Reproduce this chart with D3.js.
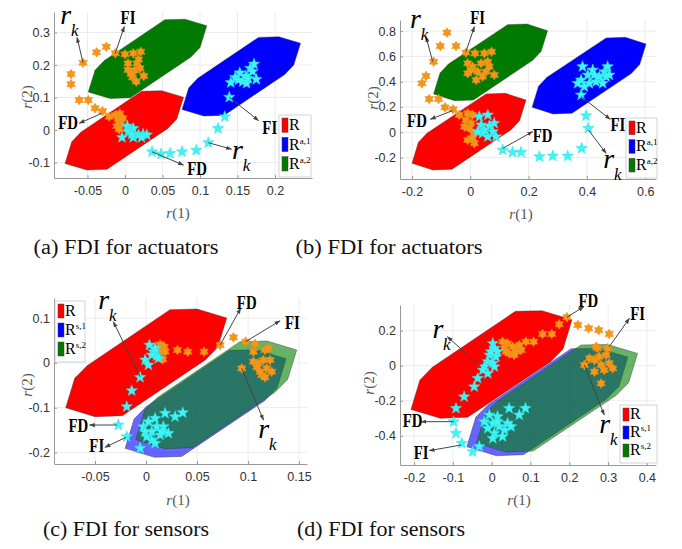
<!DOCTYPE html>
<html>
<head>
<meta charset="utf-8">
<script src="https://cdn.jsdelivr.net/npm/d3@7"></script>
<style>
  body { margin: 0; background: #fff; }
  text { font-family: "Liberation Serif", serif; }
  .tick text { font-family: "Liberation Sans", Arial, sans-serif; font-size: 12.5px; fill: #333; }
</style>
</head>
<body>
<div id="fig"></div>
<script>
// ---- reachable sets, vertices as [r(1), r(2)] ----
var zoneA_R   = [[-0.080,-0.103],[-0.071,-0.036],[-0.059,-0.007],[0.022,0.119],[0.049,0.121],[0.078,0.101],[0.069,0.034],[0.057,0.005],[-0.024,-0.121],[-0.051,-0.123]];
var zoneA_Ra1 = [[0.076,0.063],[0.085,0.130],[0.097,0.159],[0.178,0.285],[0.205,0.287],[0.234,0.267],[0.225,0.200],[0.213,0.171],[0.132,0.045],[0.105,0.043]];
var zoneA_Ra2 = [[-0.049,0.117],[-0.040,0.184],[-0.028,0.213],[0.053,0.339],[0.080,0.341],[0.109,0.321],[0.100,0.254],[0.088,0.225],[0.007,0.099],[-0.020,0.097]];

var zoneB_R   = [[-0.200,-0.245],[-0.178,-0.079],[-0.149,-0.008],[0.054,0.303],[0.120,0.308],[0.191,0.255],[0.169,0.092],[0.140,0.021],[-0.063,-0.292],[-0.128,-0.298]];
var zoneB_Ra1 = [[0.212,0.198],[0.234,0.364],[0.263,0.435],[0.466,0.746],[0.532,0.751],[0.603,0.698],[0.581,0.535],[0.552,0.464],[0.349,0.151],[0.284,0.145]];
var zoneB_Ra2 = [[-0.126,0.303],[-0.104,0.469],[-0.075,0.540],[0.128,0.851],[0.194,0.856],[0.265,0.803],[0.243,0.640],[0.214,0.569],[0.011,0.256],[-0.054,0.250]];

var zoneC_R   = [[-0.0787,-0.100],[-0.0699,-0.0344],[-0.0578,-0.0063],[0.0235,0.1188],[0.0500,0.1203],[0.0791,0.1002],[0.0703,0.0348],[0.0581,0.0065],[-0.0232,-0.1179],[-0.0500,-0.1201]];
var zoneC_Rs1 = [[-0.0205,-0.1908],[-0.0117,-0.1252],[0.0004,-0.0971],[0.0817,0.0280],[0.1082,0.0295],[0.1373,0.0094],[0.1285,-0.0560],[0.1163,-0.0843],[0.0350,-0.2087],[0.0082,-0.2109]];
var zoneC_Rs2 = [[-0.0101,-0.1714],[-0.0013,-0.1058],[0.0108,-0.0777],[0.0921,0.0474],[0.1186,0.0489],[0.1477,0.0288],[0.1389,-0.0366],[0.1267,-0.0649],[0.0454,-0.1893],[0.0186,-0.1915]];

var zoneD_R   = [[-0.208,-0.249],[-0.185,-0.081],[-0.153,-0.009],[0.061,0.310],[0.130,0.313],[0.207,0.262],[0.184,0.095],[0.152,0.023],[-0.062,-0.294],[-0.132,-0.300]];
var zoneD_Rs1 = [[-0.064,-0.462],[-0.041,-0.294],[-0.009,-0.222],[0.205,0.097],[0.274,0.100],[0.351,0.049],[0.328,-0.118],[0.296,-0.190],[0.082,-0.507],[0.012,-0.513]];
var zoneD_Rs2 = [[-0.039,-0.441],[-0.016,-0.273],[0.016,-0.201],[0.230,0.118],[0.299,0.121],[0.376,0.070],[0.353,-0.097],[0.321,-0.169],[0.107,-0.486],[0.037,-0.492]];

// ---- residual samples r_k (orange = hexagram, cyan = pentagram) ----
var orangeA = [[-0.025,0.256],[-0.038,0.239],[-0.056,0.207],[-0.072,0.172],[-0.072,0.141],[-0.061,0.092],[-0.049,0.092],[-0.040,0.067],[-0.030,0.058],[-0.021,0.041],
  [-0.013,0.236],[0.000,0.233],[0.011,0.236],[0.021,0.241],[0.004,0.205],[0.016,0.205],[0.004,0.185],[0.013,0.183],[0.020,0.190],[0.025,0.166],[0.010,0.162],[0.015,0.149],[0.008,0.172],[0.018,0.217],
  [-0.013,0.046],[-0.007,0.051],[-0.009,0.033],[-0.006,0.018],[-0.011,0.012],[-0.008,0.002],[-0.003,0.036]];
var cyanA = [[-0.004,-0.023],[0.003,0.012],[0.004,-0.005],[0.011,0.005],[0.011,-0.023],[0.018,-0.015],[0.024,-0.013],[0.029,-0.015],[0.009,-0.013],[0.022,-0.023],
  [0.036,-0.067],[0.048,-0.074],[0.060,-0.072],[0.076,-0.067],[0.095,-0.062],[0.111,-0.039],[0.124,0.005],[0.133,0.041],[0.139,0.101],
  [0.141,0.146],[0.147,0.162],[0.153,0.176],[0.157,0.149],[0.161,0.166],[0.167,0.190],[0.172,0.203],[0.170,0.180],[0.175,0.156],[0.162,0.144],[0.151,0.154],[0.164,0.159]];

var orangeB = [[-0.080,0.788],[-0.103,0.682],[-0.049,0.682],[-0.126,0.558],[-0.152,0.445],[-0.166,0.387],[-0.141,0.263],[-0.109,0.263],[-0.087,0.197],[-0.059,0.182],[-0.038,0.137],
  [-0.015,0.630],[0.016,0.624],[0.048,0.624],[0.073,0.637],[-0.009,0.545],[0.008,0.519],[0.037,0.545],[0.060,0.558],[0.025,0.479],[0.054,0.479],[0.082,0.453],[-0.009,0.466],[0.020,0.413],[0.042,0.440],[0.065,0.519],[0.002,0.492],
  [-0.009,0.150],[0.008,0.137],[-0.015,0.097],[0.002,0.071],[-0.003,0.031],[0.012,-0.008],[0.014,-0.087],[-0.009,-0.061],[0.008,-0.048],[-0.020,0.045]];
var cyanB = [[0.031,0.124],[0.060,0.137],[0.037,0.058],[0.065,0.050],[0.077,0.005],[0.042,-0.008],[0.060,-0.035],[0.088,-0.035],[0.048,0.018],[0.025,0.005],[0.082,0.071],
  [0.111,-0.140],[0.145,-0.158],[0.174,-0.158],[0.237,-0.193],[0.283,-0.187],[0.334,-0.187],[0.382,-0.127],[0.405,0.031],[0.397,0.131],
  [0.380,0.295],[0.380,0.413],[0.385,0.519],[0.403,0.453],[0.420,0.492],[0.431,0.400],[0.443,0.440],[0.460,0.479],[0.471,0.519],[0.466,0.440],[0.454,0.387],[0.425,0.453],[0.391,0.361],[0.408,0.387],[0.477,0.453],[0.368,0.387]];

var orangeC = [[0.0138,0.0414],[0.0177,0.0362],[0.0131,0.0273],[0.0187,0.0250],[0.0164,0.0079],
  [0.0308,0.0288],[0.0409,0.0250],[0.0569,0.0250],[0.0726,0.0399],[0.0857,0.0570],[0.0977,0.0474],[0.1069,0.0421],
  [0.1053,0.0250],[0.1167,0.0288],[0.1200,0.0325],[0.1053,0.0027],[0.1102,-0.0010],[0.1151,0.0064],[0.1216,0.0064],[0.1085,-0.0099],[0.1183,-0.0122],[0.1134,-0.0271],[0.1232,-0.0196],[0.1167,-0.0323],[0.1118,-0.0196],[0.0938,-0.0122]];
var cyanC = [[0.0033,0.0399],[0.0072,0.0250],[0.0105,0.0154],[-0.0009,0.0064],[0.0023,-0.0047],[0.0056,0.0176],[0.0121,0.0101],[0.0089,0.0325],
  [-0.0058,-0.0323],[-0.0140,-0.0620],[-0.0189,-0.0977],[-0.0271,-0.1387],[-0.0189,-0.1647],[-0.0058,-0.1907],
  [-0.0026,-0.1424],[0.0023,-0.1312],[0.0089,-0.1238],[0.0105,-0.1424],[0.0056,-0.1535],[0.0170,-0.1424],[0.0138,-0.1610],[0.0219,-0.1573],[0.0056,-0.1721],[0.0007,-0.1647],[0.0089,-0.1796],[0.0187,-0.1126],[0.0285,-0.1201],[0.0360,-0.1111],[-0.0009,-0.1535],[0.0154,-0.1535]];

var orangeD = [[0.028,0.137],[0.041,0.127],[0.033,0.099],[0.054,0.108],[0.063,0.080],[0.076,0.089],[0.045,0.070],[0.058,0.061],[0.071,0.118],[0.037,0.080],
  [0.088,0.137],[0.108,0.137],[0.131,0.181],[0.155,0.181],[0.174,0.236],[0.194,0.276],[0.222,0.232],[0.250,0.213],[0.276,0.203],[0.303,0.181],
  [0.299,0.099],[0.239,0.004],[0.252,0.042],[0.265,0.032],[0.273,0.099],[0.277,0.051],[0.282,0.004],[0.295,0.061],[0.290,-0.025],[0.303,0.014],[0.312,-0.015],[0.265,-0.034],[0.282,-0.101],[0.269,0.108]];
var cyanD = [[0.003,0.127],[0.007,0.099],[-0.006,0.061],[0.011,0.051],[-0.010,0.023],[0.003,0.014],[-0.019,-0.006],[0.007,-0.006],[-0.010,-0.044],[-0.023,-0.025],[-0.002,0.080],[0.015,0.080],
  [-0.036,-0.072],[-0.045,-0.120],[-0.071,-0.177],[-0.092,-0.243],[-0.098,-0.319],[-0.092,-0.385],[-0.077,-0.442],[-0.049,-0.490],[-0.032,-0.461],
  [-0.006,-0.281],[-0.019,-0.319],[0.003,-0.328],[0.015,-0.290],[-0.010,-0.357],[0.020,-0.347],[0.007,-0.385],[0.033,-0.366],[0.041,-0.328],[0.050,-0.347],[0.028,-0.404],[0.003,-0.414],[0.045,-0.243],[0.071,-0.281],[0.087,-0.243],[0.015,-0.319]];

// ---- arrow notes: label, arrow start, arrow tip, label centre ----
var notesA = [
  {label: "rk", from: [-0.056,0.207], to: [-0.064,0.285], at: [-0.075,0.346]},
  {label: "FI", from: [-0.013,0.236], to: [-0.001,0.318], at: [0.004,0.349]},
  {label: "FD", from: [-0.031,0.051], to: [-0.061,0.021], at: [-0.076,0.026]},
  {label: "FI", from: [0.139,0.101],  to: [0.178,0.029],  at: [0.193,0.010]},
  {label: "rk", from: [0.111,-0.039], to: [0.142,-0.059], at: [0.154,-0.072]},
  {label: "FD", from: [0.036,-0.067], to: [0.078,-0.108], at: [0.096,-0.118]}
];
var notesB = [
  {label: "rk", from: [-0.129,0.558], to: [-0.152,0.756], at: [-0.178,0.874]},
  {label: "FI", from: [-0.015,0.637], to: [0.014,0.835],  at: [0.025,0.914]},
  {label: "FD", from: [-0.061,0.171], to: [-0.137,0.103], at: [-0.183,0.097]},
  {label: "FI", from: [0.380,0.282],  to: [0.480,0.103],  at: [0.506,0.066]},
  {label: "FD", from: [0.111,-0.127], to: [0.214,0.005],  at: [0.248,-0.021]},
  {label: "rk", from: [0.405,0.018],  to: [0.466,-0.166], at: [0.485,-0.232]}
];
var notesC = [
  {label: "rk", from: [-0.0058,-0.0308], to: [-0.0320,0.092],  at: [-0.0385,0.133]},
  {label: "FD", from: [0.0726,0.0399],   to: [0.0928,0.1218],  at: [0.0987,0.1366]},
  {label: "FI", from: [0.0977,0.0474],   to: [0.1314,0.0942],  at: [0.1435,0.092]},
  {label: "rk", from: [0.0938,-0.0122],  to: [0.1151,-0.1275], at: [0.1183,-0.1535]},
  {label: "FD", from: [-0.0287,-0.1387], to: [-0.0555,-0.1387], at: [-0.0663,-0.1387]},
  {label: "FI", from: [-0.0196,-0.1662], to: [-0.0402,-0.1885], at: [-0.0483,-0.1833]}
];
var notesD = [
  {label: "rk", from: [-0.028,-0.006], to: [-0.114,0.165], at: [-0.131,0.194]},
  {label: "FD", from: [0.194,0.276],   to: [0.237,0.336],  at: [0.249,0.374]},
  {label: "FI", from: [0.303,0.108],   to: [0.355,0.270],  at: [0.376,0.298]},
  {label: "rk", from: [0.239,0.004],   to: [0.290,-0.281], at: [0.299,-0.347]},
  {label: "FD", from: [-0.098,-0.319], to: [-0.182,-0.319], at: [-0.204,-0.309]},
  {label: "FI", from: [-0.079,-0.452], to: [-0.161,-0.484], at: [-0.182,-0.490]}
];

var ticksA_x = [-0.05, 0, 0.05, 0.1, 0.15, 0.2], ticksA_y = [-0.1, 0, 0.1, 0.2, 0.3];
var ticksB_x = [-0.2, 0, 0.2, 0.4, 0.6],          ticksB_y = [-0.2, 0, 0.2, 0.4, 0.6, 0.8];
var ticksC_x = [-0.05, 0, 0.05, 0.1, 0.15],       ticksC_y = [-0.2, -0.1, 0, 0.1];
var ticksD_x = [-0.2, -0.1, 0, 0.1, 0.2, 0.3, 0.4], ticksD_y = [-0.4, -0.2, 0, 0.2];

var legendA = ["", "a,1", "a,2"], legendS = ["", "s,1", "s,2"];

var RED = "#ff0000", BLUE = "#0000ff", GREEN = "#007a00";
var ORANGE = "#f5961a", CYAN = "#3ff4f4";

var panels = [
  { box: {l: 54, r: 312, t: 12, b: 178}, xDom: [-0.0947, 0.2493], yDom: [-0.1477, 0.3631],
    xt: ticksA_x, yt: ticksA_y,
    zones: [{pts: zoneA_R, c: RED, op: 1}, {pts: zoneA_Ra1, c: BLUE, op: 1}, {pts: zoneA_Ra2, c: GREEN, op: 1}],
    orange: orangeA, cyan: cyanA, notes: notesA,
    legend: {x: 279, y: 115, w: 32, h: 62, sup: legendA},
    xlab: [178, 213], ylab: [27, 97], cap: "(a) FDI for actuators", capPos: [126, 254], capW: 185 },
  { box: {l: 400, r: 656, t: 20, b: 179}, xDom: [-0.2412, 0.6370], yDom: [-0.3692, 0.8877],
    xt: ticksB_x, yt: ticksB_y,
    zones: [{pts: zoneB_R, c: RED, op: 1}, {pts: zoneB_Ra1, c: BLUE, op: 1}, {pts: zoneB_Ra2, c: GREEN, op: 1}],
    orange: orangeB, cyan: cyanB, notes: notesB,
    legend: {x: 626, y: 118, w: 31, h: 60, sup: legendA},
    xlab: [521, 214], ylab: [373, 98], cap: "(b) FDI for actuators", capPos: [389, 254], capW: 187 },
  { box: {l: 54, r: 307, t: 298, b: 464}, xDom: [-0.0902, 0.1578], yDom: [-0.2257, 0.1449],
    xt: ticksC_x, yt: ticksC_y,
    zones: [{pts: zoneC_R, c: RED, op: 1}, {pts: zoneC_Rs1, c: BLUE, op: 0.6}, {pts: zoneC_Rs2, c: "#008000", op: 0.6}],
    orange: orangeC, cyan: cyanC, notes: notesC,
    legend: {x: 55, y: 301, w: 30, h: 61, sup: legendS},
    xlab: [178, 500], ylab: [27, 385], cap: "(c) FDI for sensors", capPos: [126, 536], capW: 166 },
  { box: {l: 400, r: 656, t: 305, b: 465}, xDom: [-0.2363, 0.4235], yDom: [-0.5658, 0.3459],
    xt: ticksD_x, yt: ticksD_y,
    zones: [{pts: zoneD_R, c: RED, op: 1}, {pts: zoneD_Rs1, c: BLUE, op: 0.6}, {pts: zoneD_Rs2, c: "#008000", op: 0.6}],
    orange: orangeD, cyan: cyanD, notes: notesD,
    legend: {x: 620, y: 405, w: 37, h: 58, sup: legendS},
    xlab: [519, 500], ylab: [369, 383], cap: "(d) FDI for sensors", capPos: [381, 536], capW: 168 }
];

var svg = d3.select("#fig").append("svg").attr("width", 682).attr("height", 549);

svg.append("defs").append("marker")
    .attr("id", "arrow")
    .attr("viewBox", "0 0 10 10")
    .attr("refX", 9).attr("refY", 5)
    .attr("markerWidth", 6).attr("markerHeight", 6)
    .attr("orient", "auto")
  .append("path")
    .attr("d", "M0,1.5L10,5L0,8.5Z")
    .attr("fill", "#444");

// star shaped marker: n points, outer radius R, inner radius ri
function starPath(n, R, ri) {
  var pts = [];
  for (var i = 0; i < 2 * n; i++) {
    var a = Math.PI * i / n - Math.PI / 2;
    var rr = i % 2 ? ri : R;
    pts.push([rr * Math.cos(a), rr * Math.sin(a)]);
  }
  return "M" + pts.join("L") + "Z";
}
var hexagram = starPath(6, 4.9, 2.9);
var pentagram = starPath(5, 6, 2.5);

function drawPanel(p) {
  var x = d3.scaleLinear().domain(p.xDom).range([p.box.l, p.box.r]);
  var y = d3.scaleLinear().domain(p.yDom).range([p.box.b, p.box.t]);
  var g = svg.append("g");

  // grid
  g.selectAll(".gx").data(p.xt).enter().append("line")
      .attr("x1", d => x(d)).attr("x2", d => x(d))
      .attr("y1", p.box.t).attr("y2", p.box.b)
      .attr("stroke", "#ebebeb").attr("stroke-width", 1);
  g.selectAll(".gy").data(p.yt).enter().append("line")
      .attr("x1", p.box.l).attr("x2", p.box.r)
      .attr("y1", d => y(d)).attr("y2", d => y(d))
      .attr("stroke", "#ebebeb").attr("stroke-width", 1);

  var xAxis = g.append("g")
      .attr("transform", "translate(0," + p.box.b + ")")
      .call(d3.axisBottom(x).tickValues(p.xt).tickFormat(String)
        .tickSizeInner(-3).tickSizeOuter(0).tickPadding(8));
  var yAxis = g.append("g")
      .attr("transform", "translate(" + p.box.l + ",0)")
      .call(d3.axisLeft(y).tickValues(p.yt).tickFormat(String)
        .tickSizeInner(-3).tickSizeOuter(0).tickPadding(4));
  [xAxis, yAxis].forEach(function(a) {
    a.select(".domain").attr("stroke", "#9a9a9a");
    a.selectAll(".tick line").attr("stroke", "#9a9a9a");
  });

  // sets
  var line = d3.line().x(d => x(d[0])).y(d => y(d[1])).curve(d3.curveLinearClosed);
  p.zones.forEach(function(z) {
    g.append("path").datum(z.pts)
        .attr("d", line)
        .attr("fill", z.c).attr("fill-opacity", z.op)
        .attr("stroke", "#333").attr("stroke-opacity", 0.7).attr("stroke-width", 0.6);
  });

  // residuals
  g.selectAll(".hex").data(p.orange).enter().append("path")
      .attr("d", hexagram)
      .attr("transform", d => "translate(" + x(d[0]) + "," + y(d[1]) + ")")
      .attr("fill", ORANGE).attr("stroke", "#e88a10").attr("stroke-width", 0.5);
  g.selectAll(".pent").data(p.cyan).enter().append("path")
      .attr("d", pentagram)
      .attr("transform", d => "translate(" + x(d[0]) + "," + y(d[1]) + ")")
      .attr("fill", CYAN).attr("stroke", "#2ee0e6").attr("stroke-width", 0.5);

  // arrows and labels
  p.notes.forEach(function(n) {
    g.append("line")
        .attr("x1", x(n.from[0])).attr("y1", y(n.from[1]))
        .attr("x2", x(n.to[0])).attr("y2", y(n.to[1]))
        .attr("stroke", "#444").attr("stroke-width", 1)
        .attr("marker-end", "url(#arrow)");
    var cx = x(n.at[0]), cy = y(n.at[1]);
    if (n.label == "rk") {
      g.append("text").attr("x", cx - 3).attr("y", cy + 6)
          .attr("text-anchor", "middle")
          .style("font-size", "28px").style("font-style", "italic")
          .text("r");
      g.append("text").attr("x", cx + 6).attr("y", cy + 18)
          .attr("text-anchor", "middle")
          .style("font-size", "17px").style("font-style", "italic")
          .text("k");
    } else {
      g.append("text")
          .attr("transform", "translate(" + cx + "," + (cy + 7) + ") scale(0.78,1)")
          .attr("text-anchor", "middle")
          .style("font-size", "19px").style("font-weight", "bold")
          .text(n.label);
    }
  });

  // legend
  var L = p.legend;
  var lg = g.append("g").attr("transform", "translate(" + L.x + "," + L.y + ")");
  lg.append("rect").attr("width", L.w).attr("height", L.h)
      .attr("fill", "#fff").attr("stroke", "#c8c8c8").attr("stroke-width", 0.8);
  var cols = [RED, BLUE, GREEN];
  var step = (L.h - 4) / 3;
  L.sup.forEach(function(s, i) {
    lg.append("rect").attr("x", 3).attr("y", 3 + i * step)
        .attr("width", 6).attr("height", step - 5)
        .attr("fill", cols[i]).attr("stroke", "#444").attr("stroke-width", 0.5);
    var t = lg.append("text").attr("x", 10).attr("y", 3 + i * step + step - 7)
        .style("font-size", "16px").text("R");
    if (s) {
      t.append("tspan").attr("dy", -6).style("font-size", "9px").text(s);
    }
  });

  // axis labels
  var xl = g.append("text").attr("x", p.xlab[0]).attr("y", p.xlab[1] + 5)
      .attr("text-anchor", "middle").style("font-size", "15px").attr("fill", "#555");
  xl.append("tspan").style("font-style", "italic").text("r");
  xl.append("tspan").text("(1)");
  var yl = g.append("text")
      .attr("transform", "translate(" + (p.ylab[0] + 5) + "," + p.ylab[1] + ") rotate(-90)")
      .attr("text-anchor", "middle").style("font-size", "15px").attr("fill", "#555");
  yl.append("tspan").style("font-style", "italic").text("r");
  yl.append("tspan").text("(2)");

  // caption
  svg.append("text").attr("x", p.capPos[0]).attr("y", p.capPos[1])
      .attr("text-anchor", "middle").style("font-size", "20px").attr("fill", "#111")
      .attr("textLength", p.capW).attr("lengthAdjust", "spacingAndGlyphs")
      .text(p.cap);
}

panels.forEach(drawPanel);
</script>
</body>
</html>
